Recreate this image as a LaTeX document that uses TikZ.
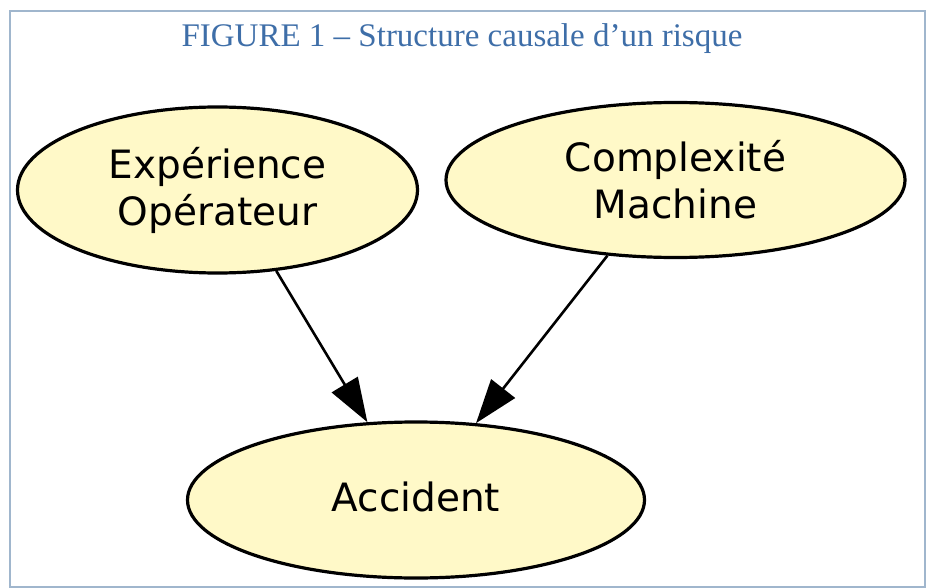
\documentclass[tikz,border=0pt]{standalone}
\usepackage{fontspec}
\setmainfont{Liberation Serif}
\newfontfamily\nodefont{DejaVu Sans}
\usetikzlibrary{shapes.geometric,arrows.meta}
\definecolor{framec}{RGB}{160,182,205}
\definecolor{titlec}{RGB}{62,110,168}
\definecolor{nodefill}{RGB}{255,249,200}
\tikzset{
  causenode/.style={ellipse, draw=black, line width=3.2pt, fill=nodefill,
    inner sep=0pt, align=center,
    font=\nodefont\fontsize{39}{47}\selectfont},
  causearrow/.style={line width=2.6pt, -{Triangle[length=44pt,width=30pt]}},
}
\begin{document}
\begin{tikzpicture}[x=1pt,y=-1pt]
\useasboundingbox (0,0) rectangle (929,588);
\draw[framec, line width=1.4pt] (10,11) rectangle (925,587);
\node[titlec, font=\fontsize{33}{38}\selectfont, anchor=base] (title) at (462,47)
  {FIGURE 1 -- Structure causale d’un risque};
\node[causenode, minimum width=400pt, minimum height=166pt] (exp) at (217.5,190)
  {Expérience\\Opérateur};
\node[causenode, minimum width=459pt, minimum height=155pt] (cpx) at (675.5,180)
  {Complexité\\Machine};
\node[causenode, minimum width=457pt, minimum height=156pt] (acc) at (416,500)
  {\raisebox{7pt}{Accident}};
\draw[causearrow] (exp.-54) -- (acc.122);
\draw[causearrow] (cpx.-132) -- (acc.52);
\end{tikzpicture}
\end{document}
